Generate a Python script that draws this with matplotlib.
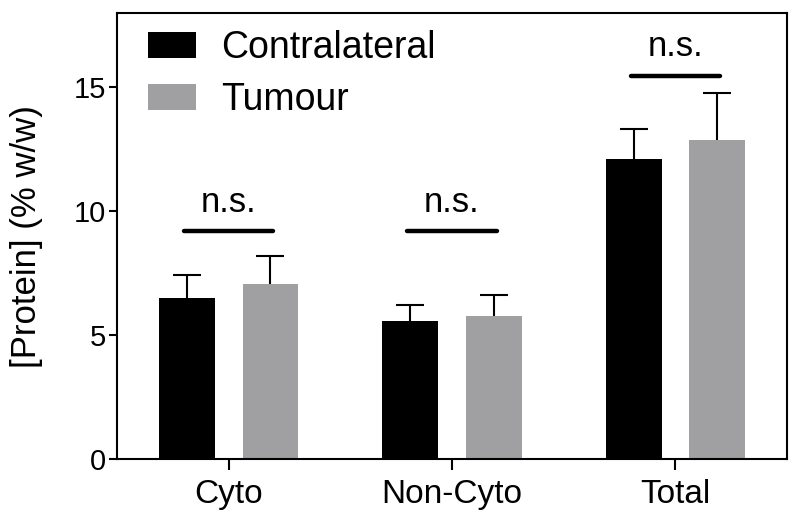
import matplotlib
matplotlib.use('Agg')
import matplotlib.pyplot as plt
import numpy as np

plt.rcParams['font.family'] = ['Liberation Sans', 'DejaVu Sans']

# Data
categories = ['Cyto', 'Non-Cyto', 'Total']
contra_mean = [6.5, 5.58, 12.12]
contra_sem = [0.93, 0.63, 1.21]
tumour_mean = [7.08, 5.78, 12.89]
tumour_sem = [1.11, 0.83, 1.88]
ns_level = [9.2, 9.2, 15.47]
ns_text = ['n.s.', 'n.s.', 'n.s.']

black = '#000000'
grey = '#a0a0a3'

fig = plt.figure(figsize=(8, 5.23), dpi=100)
ax = fig.add_axes([0.146, 0.122, 0.838, 0.853])

x = np.arange(len(categories))
w = 0.25
off = 0.1875

ax.bar(x - off, contra_mean, w, color=black, label='Contralateral', zorder=2)
ax.bar(x + off, tumour_mean, w, color=grey, label='Tumour', zorder=2)
# upward-only error bars, hide the lower cap
for xs, m, e in [(x - off, contra_mean, contra_sem), (x + off, tumour_mean, tumour_sem)]:
    eb = ax.errorbar(xs, m, yerr=[np.zeros(3), e], fmt='none', ecolor='black',
                     elinewidth=1.5, capsize=10, capthick=1.5, zorder=1)
    eb[1][0].set_visible(False)

# significance bars
for i in range(len(categories)):
    ax.plot([x[i] - 0.2, x[i] + 0.2], [ns_level[i], ns_level[i]], color='black',
            lw=3.2, solid_capstyle='round')
    ax.text(x[i], ns_level[i] + 0.5, ns_text[i], ha='center', va='bottom', fontsize=25)

ax.set_xlim(-0.5, 2.5)
ax.set_ylim(0, 18)
ax.set_yticks([0, 5, 10, 15])
ax.set_xticks(x)
ax.set_xticklabels(categories)
ax.tick_params(axis='y', labelsize=21, width=1.5, length=6, pad=2)
ax.tick_params(axis='x', labelsize=24, width=1.5, length=8, pad=6)
for s in ax.spines.values():
    s.set_linewidth(1.5)
ax.set_ylabel('[Protein] (% w/w)', fontsize=25, labelpad=22)

ax.legend(loc='upper left', bbox_to_anchor=(0.046, 0.962), frameon=False,
          fontsize=27, handlelength=1.3, handleheight=0.7, handletextpad=0.65,
          labelspacing=0.42, borderpad=0, borderaxespad=0)

fig.savefig('out.png', dpi=100)
